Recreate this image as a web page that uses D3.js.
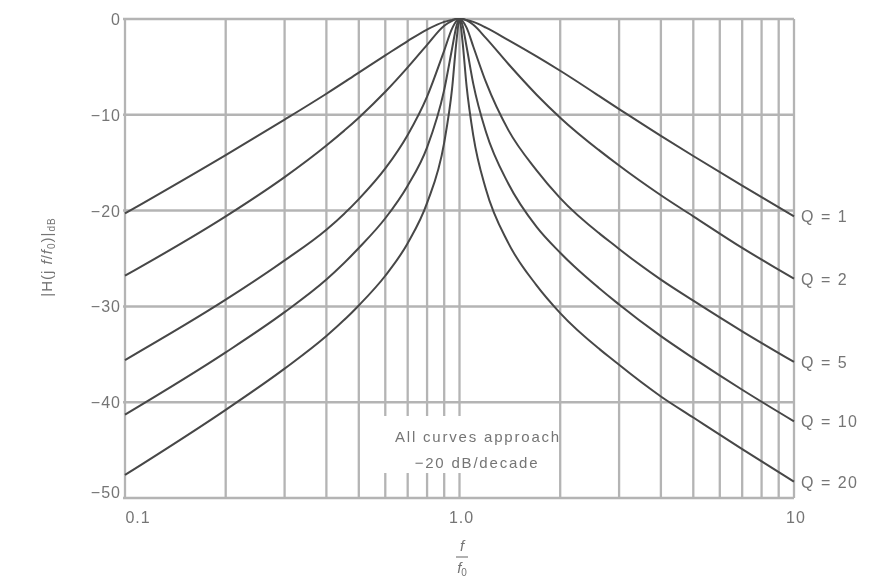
<!DOCTYPE html>
<html>
<head>
<meta charset="utf-8">
<script src="https://cdn.jsdelivr.net/npm/d3@7"></script>
<style>
  body { margin: 0; background: #fff; }
  text { font-family: "Liberation Sans", Arial, sans-serif; fill: #757575; }
</style>
</head>
<body>
<svg width="883" height="585"></svg>
<script>
// values (dB) at these f/f0 points
const freq = [0.1, 0.2, 0.3, 0.4, 0.5, 0.6, 0.7, 0.8, 0.9, 0.95, 0.98, 1.0, 1.02, 1.05, 1.1, 1.2, 1.4, 1.7, 2, 3, 4, 5, 7, 10];
const q1  = [-20.3, -14.2, -10.5, -7.8, -5.6, -3.8, -2.3, -1.1, -0.3, -0.1, 0, 0, 0, -0.1, -0.3, -0.9, -2.2, -3.9, -5.4, -9.4, -12.2, -14.3, -17.4, -20.6];
const q2  = [-26.8, -20.6, -16.5, -13.2, -10.3, -7.6, -5.05, -2.7, -0.7, -0.2, 0, 0, 0, -0.15, -0.6, -2.0, -4.7, -7.9, -10.3, -15.3, -18.4, -20.6, -23.9, -27.1];
const q5  = [-35.6, -29.3, -25.2, -22.0, -18.8, -15.6, -12.1, -8.1, -3.3, -1.0, -0.2, 0, -0.2, -0.9, -2.9, -6.6, -11.6, -15.8, -18.7, -24.0, -27.2, -29.4, -32.6, -35.8];
const q10 = [-41.3, -34.8, -30.6, -27.2, -23.9, -20.8, -17.4, -13.4, -7.4, -3.1, -0.7, 0, -0.6, -2.9, -6.8, -11.8, -17.2, -21.7, -24.4, -29.8, -33.1, -35.4, -38.7, -42.0];
const q20 = [-47.6, -40.8, -36.5, -33.1, -29.9, -26.8, -23.4, -19.2, -12.9, -7.3, -2.2, 0, -2.2, -7.0, -12.2, -17.8, -23.4, -27.8, -30.7, -36.1, -39.4, -41.6, -44.9, -48.3];

const seriesNames = ["Q = 1", "Q = 2", "Q = 5", "Q = 10", "Q = 20"];
const seriesValues = [q1, q2, q5, q10, q20];

const yTicks = [0, -10, -20, -30, -40, -50];
const yTickLabels = ["0", "\u221210", "\u221220", "\u221230", "\u221240", "\u221250"];
const xTicks = [0.1, 1, 10];
const xTickLabels = ["0.1", "1.0", "10"];

const svg = d3.select("svg");

const x = d3.scaleLog().domain([0.1, 10]).range([125, 794]);
const y = d3.scaleLinear().domain([-50, 0]).range([498, 19]);

// soft look of the scanned figure
svg.append("defs").append("filter")
    .attr("id", "soft")
    .append("feGaussianBlur")
    .attr("stdDeviation", 0.6);

const g = svg.append("g").attr("filter", "url(#soft)");

// grid
g.append("g").selectAll("line")
    .data(x.ticks())
    .enter().append("line")
    .attr("x1", d => x(d)).attr("x2", d => x(d))
    .attr("y1", y(0)).attr("y2", y(-50))
    .attr("stroke", "#b4b4b4")
    .attr("stroke-width", 2.3);

g.append("g").selectAll("line")
    .data(yTicks)
    .enter().append("line")
    .attr("x1", x(0.1) - 2).attr("x2", x(10))
    .attr("y1", d => y(d)).attr("y2", d => y(d))
    .attr("stroke", "#b4b4b4")
    .attr("stroke-width", 2.5);

// curves
const line = d3.line()
    .x((d, i) => x(freq[i]))
    .y(d => y(d))
    .curve(d3.curveMonotoneX);

g.append("g").selectAll("path")
    .data(seriesValues)
    .enter().append("path")
    .attr("d", d => line(d))
    .attr("fill", "none")
    .attr("stroke", "#474747")
    .attr("stroke-width", 2);

// note box (hides the grid behind it)
g.append("rect")
    .attr("x", 372).attr("y", 416)
    .attr("width", 176).attr("height", 57)
    .attr("fill", "#fff");

const note = g.append("g").attr("font-size", 15).attr("letter-spacing", 1.8);
note.append("text").attr("x", 478).attr("y", 442).attr("text-anchor", "middle").text("All curves approach");
note.append("text").attr("x", 477).attr("y", 468).attr("text-anchor", "middle").text("\u221220 dB/decade");

// y tick labels
g.append("g").selectAll("text")
    .data(yTicks)
    .enter().append("text")
    .attr("x", 121)
    .attr("y", (d, i) => y(d) + (i === yTicks.length - 1 ? 0 : 6))
    .attr("text-anchor", "end")
    .attr("font-size", 16)
    .attr("letter-spacing", 1)
    .text((d, i) => yTickLabels[i]);

// x tick labels
g.append("g").selectAll("text")
    .data(xTicks)
    .enter().append("text")
    .attr("x", d => x(d) + (d === 0.1 ? 13 : 2))
    .attr("y", 523)
    .attr("text-anchor", "middle")
    .attr("font-size", 16)
    .attr("letter-spacing", 1)
    .text((d, i) => xTickLabels[i]);

// Q labels at the right ends
g.append("g").selectAll("text")
    .data(seriesValues)
    .enter().append("text")
    .attr("x", x(10) + 7)
    .attr("y", d => y(d[d.length - 1]) + 6)
    .attr("font-size", 16)
    .attr("letter-spacing", 1.5)
    .text((d, i) => seriesNames[i]);

// x axis title f / f0
const xt = g.append("g").attr("transform", "translate(462,0)");
xt.append("text").attr("x", 0).attr("y", 551).attr("text-anchor", "middle")
    .attr("font-size", 15).attr("font-style", "italic").text("f");
xt.append("line").attr("x1", -6).attr("x2", 6).attr("y1", 557).attr("y2", 557)
    .attr("stroke", "#888").attr("stroke-width", 1.3);
xt.append("text").attr("x", 0).attr("y", 573).attr("text-anchor", "middle")
    .attr("font-size", 15).attr("font-style", "italic")
    .text("f").append("tspan").attr("font-size", 10).attr("dy", 3).attr("font-style", "normal").text("0");

// y axis title |H(j f/f0)|dB
const yt = g.append("text")
    .attr("transform", "translate(52,257) rotate(-90)")
    .attr("text-anchor", "middle")
    .attr("font-size", 15)
    .attr("letter-spacing", 1);
yt.append("tspan").text("|H(j ");
yt.append("tspan").attr("font-style", "italic").text("f");
yt.append("tspan").text("/");
yt.append("tspan").attr("font-style", "italic").text("f");
yt.append("tspan").attr("font-size", 10).attr("dy", 3).text("0");
yt.append("tspan").attr("dy", -3).text(")|");
yt.append("tspan").attr("font-size", 10).attr("dy", 3).text("dB");
</script>
</body>
</html>
